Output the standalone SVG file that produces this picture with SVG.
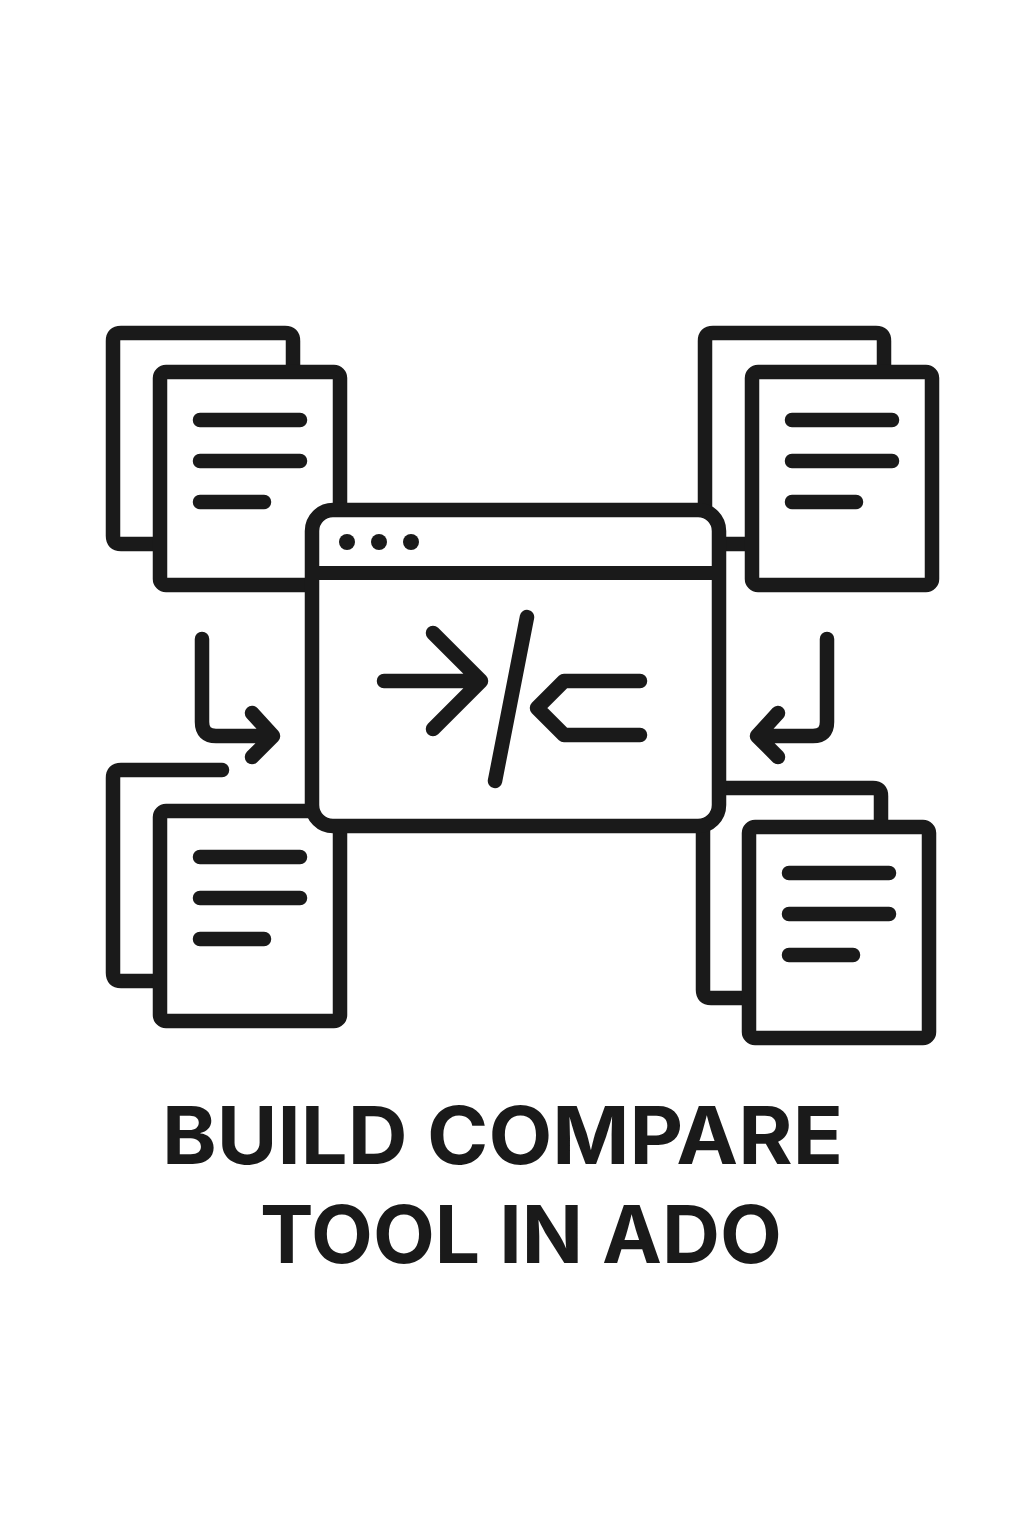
<svg xmlns="http://www.w3.org/2000/svg" width="1024" height="1536" viewBox="0 0 1024 1536">
<style>
.l{fill:none;stroke:#1a1a1a;stroke-width:14.5;stroke-linecap:round;stroke-linejoin:round}
.b{fill:none;stroke:#1a1a1a;stroke-width:14}
.p{fill:#fff;stroke:#1a1a1a;stroke-width:14.5;stroke-linejoin:round}
.t{font-family:"Inter","Noto Sans",sans-serif;font-weight:700;font-size:80px;fill:#1a1a1a}
</style>
<rect width="1024" height="1536" fill="#fff"/>
<g id="doc-top-left">
<path class="l" d="M160 544H121Q113 544 113 536V341Q113 333 121 333H285Q293 333 293 341V372"/>
<rect class="p" x="160" y="372" width="180" height="213" rx="6"/>
<path class="l" d="M200 420H300M200 461H300M200 502H264"/>
</g>
<g id="doc-top-right">
<path class="l" d="M752 544H713Q705 544 705 536V341Q705 333 713 333H876Q884 333 884 341V372"/>
<rect class="p" x="752" y="372" width="180" height="213" rx="6"/>
<path class="l" d="M792 420H892M792 461H892M792 502H856"/>
</g>
<g id="doc-bottom-left">
<path class="l" d="M160 981H121Q113 981 113 973V778Q113 770 121 770H222"/>
<rect class="p" x="160" y="811" width="180" height="210" rx="6"/>
<path class="l" d="M200 857H300M200 898H300M200 939H264"/>
</g>
<g id="doc-bottom-right">
<path class="l" d="M749 998H711Q703 998 703 990V796Q703 788 711 788H873Q881 788 881 796V827"/>
<rect class="p" x="749" y="827" width="180" height="211" rx="6"/>
<path class="l" d="M789 873H889M789 914H889M789 955H853"/>
</g>
<g id="window">
<rect class="p" x="312" y="510" width="407" height="316" rx="21"/>
<path class="b" d="M312 573H719"/>
<circle cx="347" cy="542" r="8" fill="#1a1a1a"/><circle cx="379" cy="542" r="8" fill="#1a1a1a"/><circle cx="411" cy="542" r="8" fill="#1a1a1a"/>
<path class="l" d="M384 681H480M433 633L481 681L433 729M527 617L495 781M640 681H564L537 708L564 735H640"/>
</g>
<g id="connectors">
<path class="l" d="M202 639V722Q202 736 216 736H272M252 713L273 736L252 757"/>
<path class="l" d="M827 639V722Q827 736 813 736H758M778 713L757 736L778 757"/>
</g>
<text class="t" x="162" y="1164" textLength="681" lengthAdjust="spacingAndGlyphs">BUILD COMPARE</text>
<text class="t" x="260" y="1263" textLength="522" lengthAdjust="spacingAndGlyphs">TOOL IN ADO</text>
</svg>
